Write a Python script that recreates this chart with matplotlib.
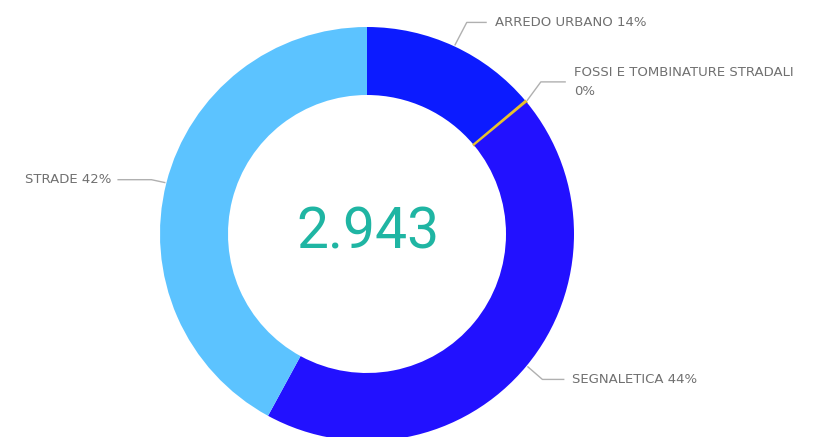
import matplotlib.pyplot as plt
import numpy as np

# data
categories = ['ARREDO URBANO', 'FOSSI E TOMBINATURE STRADALI', 'SEGNALETICA', 'STRADE']
values = [408, 5, 1292, 1238]
pct_labels = ['14%', '0%', '44%', '42%']
total_label = '2.943'
colors = ['#0C1BFF', '#E8C22C', '#2211FF', '#5CC3FF']

fig = plt.figure(figsize=(8.4, 4.37), dpi=100)
ax = fig.add_axes([0, 0, 1, 1])

cx, cy = 367, 203
R = 207
wedges, _ = ax.pie(values, colors=colors, startangle=90, counterclock=False,
                   center=(cx, cy), radius=R, frame=True,
                   wedgeprops=dict(width=68, linewidth=0))
# make the tiny slice visible like the original
wedges[1].set_edgecolor(colors[1])
wedges[1].set_linewidth(1.2)
ax.set_xlim(0, 840)
ax.set_ylim(0, 437)
ax.set_aspect('equal')
ax.axis('off')

# center total
ax.text(cx + 1, cy + 1, total_label, ha='center', va='center', fontsize=41,
        color='#1FB5A3', family=['Roboto', 'DejaVu Sans'])

# leader lines + labels (elbow offsets per label)
elbows = [(12, 23, 20, 'right'), (14, 19, 25, 'right'), (15, -13, 22, 'right'), (-14, 3, -34, 'left')]
label_text = [c + ' ' + p if len(c) < 20 else c + '\n' + p
              for c, p in zip(categories, pct_labels)]
for w, (ex, ey, hl, side), txt in zip(wedges, elbows, label_text):
    ang = np.deg2rad((w.theta1 + w.theta2) / 2)
    x0 = cx + (R + 1) * np.cos(ang)
    y0 = cy + (R + 1) * np.sin(ang)
    x1, y1 = x0 + ex, y0 + ey
    x2 = x1 + hl
    ax.plot([x0, x1, x2], [y0, y1, y1], color='#b0b0b0', lw=1, solid_capstyle='butt')
    if side == 'right':
        ax.text(x2 + 8, y1, txt, ha='left', va='center', fontsize=9.5,
                color='#707070', linespacing=1.55)
    else:
        ax.text(x2 - 6, y1, txt, ha='right', va='center', fontsize=9.5,
                color='#707070')

fig.savefig('out.png', dpi=100)
